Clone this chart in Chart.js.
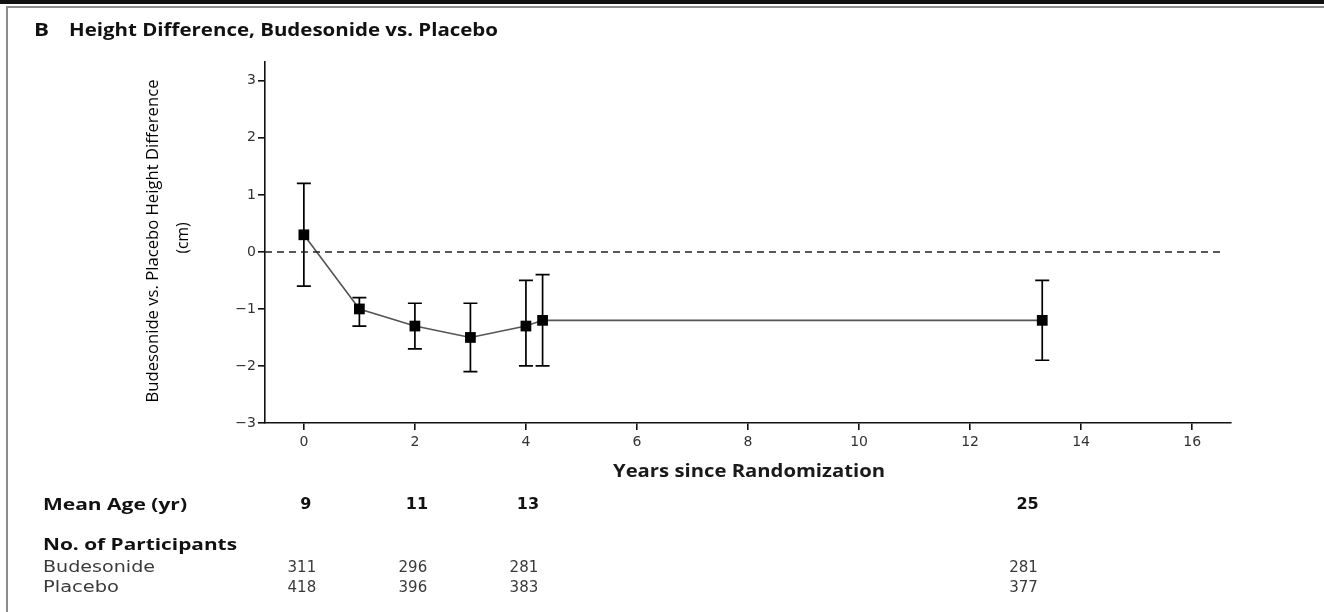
<!DOCTYPE html>
<html><head><meta charset="utf-8">
<script src="https://cdn.jsdelivr.net/npm/chart.js@4.4.1/dist/chart.umd.min.js"></script>
<style>
html,body{margin:0;padding:0;background:#fff;}
#wrap{position:relative;width:1324px;height:612px;overflow:hidden;}
#c{position:absolute;left:0;top:0;}
.topbar{position:absolute;left:0;top:0;width:1324px;height:4px;background:#111;}
.frame{position:absolute;left:6px;top:6px;width:1340px;height:640px;border-left:2px solid #8c8c8c;border-top:2px solid #8c8c8c;}
</style></head>
<body><div id="wrap"><canvas id="c" width="1324" height="612"></canvas><div class="topbar"></div><div class="frame"></div></div>
<script>
// ---- data ----
const years = [0, 1, 2, 3, 4, 4.3, 13.3];
const heightDiff = [0.3, -1.0, -1.3, -1.5, -1.3, -1.2, -1.2];
const ciLower = [-0.6, -1.3, -1.7, -2.1, -2.0, -2.0, -1.9];
const ciUpper = [1.2, -0.8, -0.9, -0.9, -0.5, -0.4, -0.5];
const xTickValues = [0, 2, 4, 6, 8, 10, 12, 14, 16];
const yTickValues = [-3, -2, -1, 0, 1, 2, 3];
const tableYears = [0, 2, 4, 13];
const meanAge = [9, 11, 13, 25];
const nBudesonide = [311, 296, 281, 281];
const nPlacebo = [418, 396, 383, 377];
const zeroLineX = [-0.7, 16.55];

function fitText(ctx, text, x, y, font, width, align) {
  ctx.save();
  ctx.font = font;
  const w = ctx.measureText(text).width;
  ctx.translate(x, y);
  ctx.scale(width / w, 1);
  ctx.textAlign = 'left';
  ctx.textBaseline = 'middle';
  ctx.fillText(text, align === 'center' ? -w / 2 : 0, 0);
  ctx.restore();
}

const errorBars = {
  id: 'errorBars',
  beforeDatasetsDraw(chart) {
    const {ctx, scales: {x, y}} = chart;
    ctx.save();
    ctx.strokeStyle = '#000';
    ctx.lineWidth = 1.7;
    years.forEach((yr, i) => {
      const px = x.getPixelForValue(yr);
      const lo = y.getPixelForValue(ciLower[i]);
      const hi = y.getPixelForValue(ciUpper[i]);
      ctx.beginPath();
      ctx.moveTo(px, lo); ctx.lineTo(px, hi);
      ctx.moveTo(px - 7, lo); ctx.lineTo(px + 7, lo);
      ctx.moveTo(px - 7, hi); ctx.lineTo(px + 7, hi);
      ctx.stroke();
    });
    ctx.restore();
  }
};

const annotations = {
  id: 'annotations',
  afterDraw(chart) {
    const {ctx, scales: {x}} = chart;
    ctx.save();
    // panel title
    ctx.fillStyle = '#111';
    fitText(ctx, 'B', 34, 31, 'bold 17px "Open Sans"', 15, 'left');
    fitText(ctx, 'Height Difference, Budesonide vs. Placebo', 69, 31, 'bold 17px "Open Sans"', 429, 'left');
    // y axis title
    ctx.save();
    ctx.fillStyle = '#000';
    ctx.translate(153, 241);
    ctx.rotate(-Math.PI / 2);
    fitText(ctx, 'Budesonide vs. Placebo Height Difference', 0, 0, '17px "Open Sans"', 323, 'center');
    fitText(ctx, '(cm)', 3, 30, '17px "Open Sans"', 31, 'center');
    ctx.restore();
    // x axis title
    ctx.fillStyle = '#1a1a1a';
    fitText(ctx, 'Years since Randomization', 749, 472, 'bold 17px "Open Sans"', 272, 'center');
    // table
    ctx.fillStyle = '#111';
    fitText(ctx, 'Mean Age (yr)', 43, 505, 'bold 16px "Open Sans"', 144, 'left');
    fitText(ctx, 'No. of Participants', 43, 545, 'bold 16px "Open Sans"', 194, 'left');
    ctx.fillStyle = '#3a3a3a';
    fitText(ctx, 'Budesonide', 43, 568, '16px "DejaVu Sans"', 112, 'left');
    fitText(ctx, 'Placebo', 43, 588, '16px "DejaVu Sans"', 76, 'left');
    ctx.textAlign = 'center';
    ctx.textBaseline = 'middle';
    tableYears.forEach((yr, i) => {
      const px = x.getPixelForValue(yr);
      ctx.fillStyle = '#111';
      ctx.font = 'bold 16px "DejaVu Sans"';
      ctx.fillText(String(meanAge[i]), px + 2, 505);
      ctx.fillStyle = '#3a3a3a';
      ctx.font = '15px "DejaVu Sans"';
      ctx.fillText(String(nBudesonide[i]), px - 2, 568);
      ctx.fillText(String(nPlacebo[i]), px - 2, 588);
    });
    ctx.restore();
  }
};

const tickFont = {family: '"DejaVu Sans"', size: 14};

new Chart(document.getElementById('c'), {
  type: 'line',
  data: {
    datasets: [
      {
        data: zeroLineX.map(v => ({x: v, y: 0})),
        borderColor: '#222',
        borderWidth: 1.5,
        borderDash: [7, 5],
        pointRadius: 0
      },
      {
        data: years.map((v, i) => ({x: v, y: heightDiff[i]})),
        borderColor: '#555',
        borderWidth: 1.6,
        pointStyle: 'rect',
        pointRadius: 7.6,
        pointBackgroundColor: '#000',
        pointBorderColor: '#000',
        pointBorderWidth: 0,
        tension: 0
      }
    ]
  },
  options: {
    responsive: false,
    animation: false,
    devicePixelRatio: 1,
    layout: {padding: {top: 62, right: 93, bottom: 0, left: 0}},
    plugins: {legend: {display: false}, tooltip: {enabled: false}, title: {display: false}},
    scales: {
      x: {
        type: 'linear',
        min: -0.7,
        max: 16.7,
        afterBuildTicks: s => { s.ticks = xTickValues.map(v => ({value: v})); },
        afterFit: s => { s.height = 189; },
        grid: {drawOnChartArea: false, drawTicks: true, tickLength: 7, color: '#111', lineWidth: 1.6},
        border: {color: '#111', width: 1.6},
        ticks: {font: tickFont, color: '#333', padding: 4, maxRotation: 0}
      },
      y: {
        type: 'linear',
        min: -3,
        max: 3.33,
        afterBuildTicks: s => { s.ticks = yTickValues.map(v => ({value: v})); },
        afterFit: s => { s.width = 265; },
        grid: {drawOnChartArea: false, drawTicks: true, tickLength: 7, color: '#111', lineWidth: 1.6},
        border: {color: '#111', width: 1.6},
        ticks: {font: tickFont, color: '#333', padding: 2,
          callback: v => v < 0 ? '\u2212' + Math.abs(v) : String(v)}
      }
    }
  },
  plugins: [errorBars, annotations]
});
</script>
</body></html>
